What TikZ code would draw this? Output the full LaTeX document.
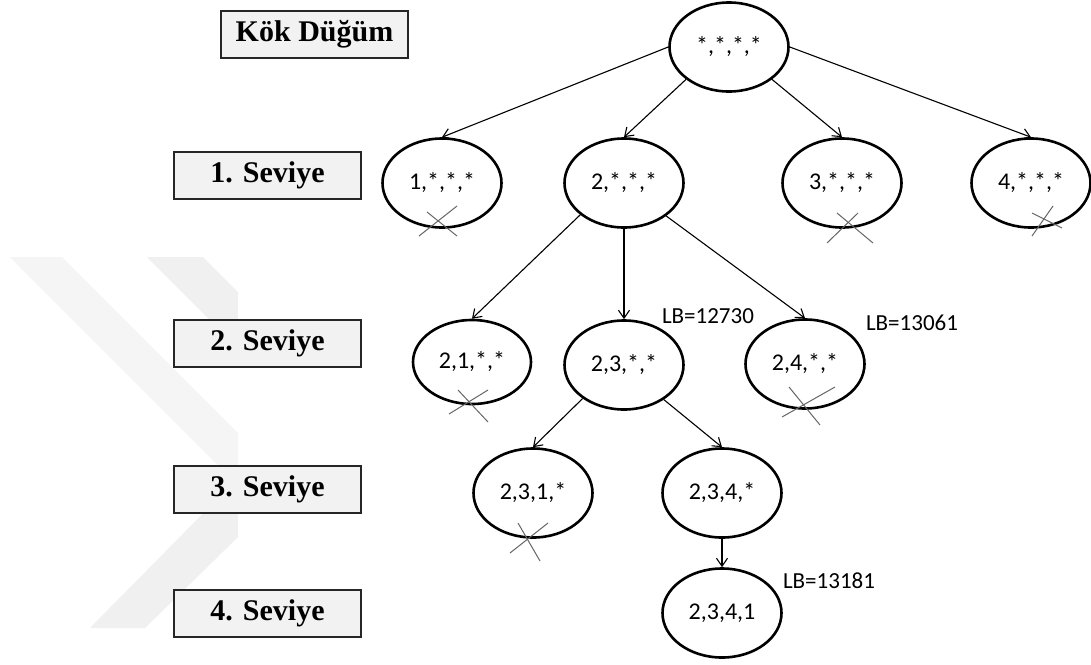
\documentclass[tikz,border=0pt]{standalone}
\usepackage{fontspec}
\newfontfamily\nodefont{Carlito}
\newfontfamily\tierfont{Liberation Serif}
\usetikzlibrary{arrows.meta,shapes.geometric}

\begin{document}
\begin{tikzpicture}[x=1pt,y=-1pt,
  tnode/.style={ellipse, draw=black, line width=2.6pt, minimum width=119pt,
    minimum height=89pt, inner sep=0pt, font=\nodefont\fontsize{24}{28}\selectfont},
  snode/.style={minimum width=118pt, minimum height=84pt},
  tierbox/.style={draw=black!85, line width=1.6pt, fill=black!5,
    minimum width=187.5pt, minimum height=47.5pt, inner sep=0pt,
    font=\tierfont\bfseries\fontsize{30}{34}\selectfont},
  link/.style={line width=1.1pt, -{Straight Barb[length=8pt,width=11pt,line width=1.1pt]}},
  lblabel/.style={font=\nodefont\fontsize{23}{27}\selectfont, inner sep=0pt},
  xline/.style={draw=black!60, line width=1pt},
]
\useasboundingbox (0,0) rectangle (1091,664);
\fill[white] (0,0) rectangle (1091,664);

% faint chevron in the background
\fill[black!6] (147,257) -- (203,257) -- (238,292) -- (238,348) -- cycle;
\fill[black!4] (10,257) -- (62,257) -- (238,433) -- (238,485) -- cycle;
\fill[black!6] (238,478) -- (238,537) -- (145,628) -- (90,628) -- cycle;

% level captions
\node[tierbox] (t0) at (314.5,34.5) {Kök Düğüm};
\node[tierbox] (t1) at (267.5,175.5) {1. Seviye};
\node[tierbox] (t2) at (267.5,343.5) {2. Seviye};
\node[tierbox] (t3) at (267.5,489.5) {3. Seviye};
\node[tierbox] (t4) at (267.5,613.5) {4. Seviye};

% search tree
\node[tnode] (r)  at (729,47)  {*,*,*,*};
\node[tnode] (a1) at (442,183) {1,*,*,*};
\node[tnode] (a2) at (624,183) {2,*,*,*};
\node[tnode] (a3) at (842,183) {3,*,*,*};
\node[tnode] (a4) at (1031,183) {4,*,*,*};
\node[tnode,snode] (b1) at (472,362) {2,1,*,*};
\node[tnode] (b3) at (624,365) {2,3,*,*};
\node[tnode] (b4) at (805,364) {2,4,*,*};
\node[tnode] (c1) at (533,493) {2,3,1,*};
\node[tnode] (c4) at (722,493) {2,3,4,*};
\node[tnode] (d1) at (722,613) {2,3,4,1};

\draw[link] (r.west) -- (a1.north);
\draw[link] (r.217) -- (a2.north);
\draw[link] (r.323) -- (a3.north);
\draw[link] (r.east) -- (a4.north);
\draw[link] (a2.216) -- (b1.north);
\draw[link] (a2.south) -- (b3.north);
\draw[link] (a2.322) -- (b4.north);
\draw[link] (b3.219) -- (c1.north);
\draw[link] (b3.319) -- (c4.north);
\draw[link] (c4.south) -- (d1.north);

% lower bounds
\node[lblabel] (lb1) at (708,316) {LB=12730};
\node[lblabel] (lb2) at (912,323) {LB=13061};
\node[lblabel] (lb3) at (829,581) {LB=13181};

% pruned branches
\draw[xline] ([shift={(-15,29)}]a1.center) -- ([shift={(15,53)}]a1.center);
\draw[xline] ([shift={(15,23)}]a1.center) -- ([shift={(-23,53)}]a1.center);
\draw[xline] ([shift={(-5,30)}]a3.center) -- ([shift={(31,60)}]a3.center);
\draw[xline] ([shift={(16,30)}]a3.center) -- ([shift={(-15,60)}]a3.center);
\draw[xline] ([shift={(1,30)}]a4.center) -- ([shift={(31,45)}]a4.center);
\draw[xline] ([shift={(22,23)}]a4.center) -- ([shift={(1,53)}]a4.center);
\draw[xline] ([shift={(-14,28)}]b1.center) -- ([shift={(16,60)}]b1.center);
\draw[xline] ([shift={(16,28)}]b1.center) -- ([shift={(-23,52)}]b1.center);
\draw[xline] ([shift={(-16,23)}]b4.center) -- ([shift={(15,61)}]b4.center);
\draw[xline] ([shift={(30,23)}]b4.center) -- ([shift={(-23,53)}]b4.center);
\draw[xline] ([shift={(-15,30)}]c1.center) -- ([shift={(7,68)}]c1.center);
\draw[xline] ([shift={(15,30)}]c1.center) -- ([shift={(-23,60)}]c1.center);
\end{tikzpicture}
\end{document}
